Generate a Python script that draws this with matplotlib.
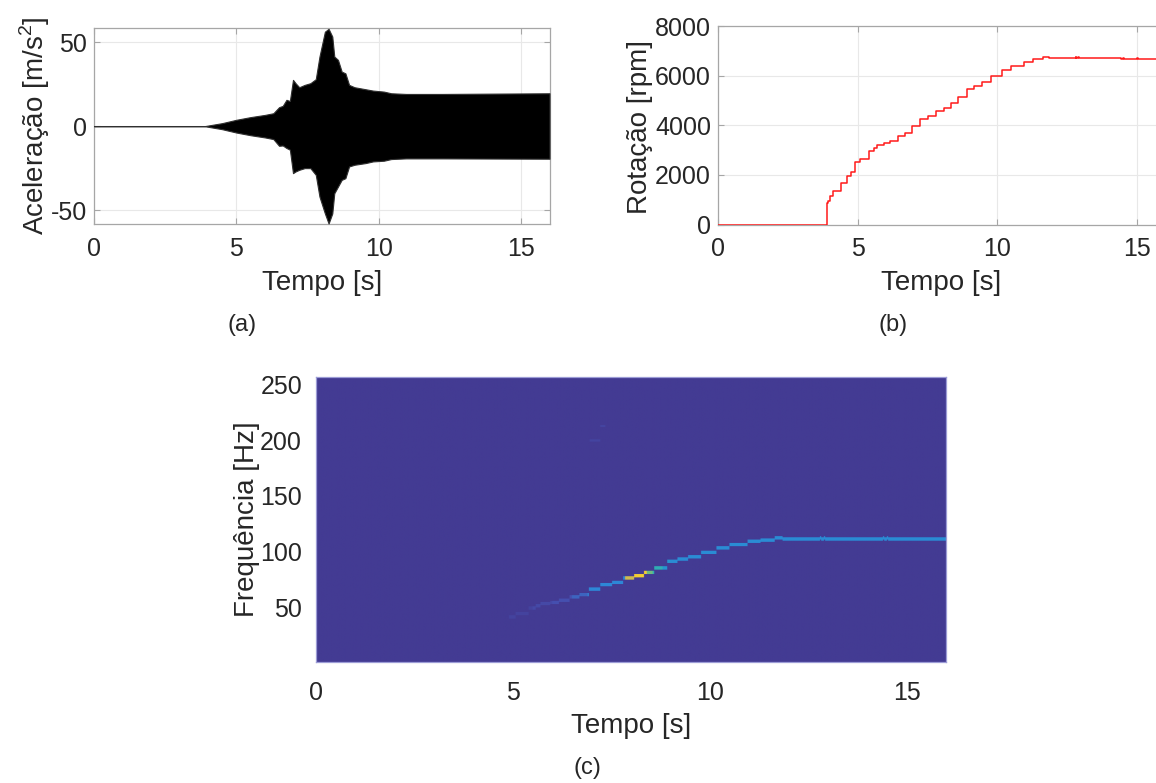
import numpy as np
import matplotlib
matplotlib.use("Agg")
import matplotlib.pyplot as plt
from matplotlib.colors import LinearSegmentedColormap

plt.rcParams['font.family'] = ['Liberation Sans', 'DejaVu Sans']
plt.rcParams['mathtext.fontset'] = 'custom'
plt.rcParams['mathtext.rm'] = 'Liberation Sans'
plt.rcParams['axes.unicode_minus'] = False

# Acceleration envelope (upper / lower) [m/s^2]
acc_t = [0, 3.88, 4.5, 5.0, 5.5, 6.0, 6.3, 6.5, 6.63, 6.76, 6.88, 6.99, 7.08, 7.21, 7.4,
         7.6, 7.79, 7.92, 8.11, 8.24, 8.37, 8.44, 8.57, 8.70, 8.83, 8.96, 9.15, 9.54, 9.80,
         10.18, 10.44, 10.96, 12.26, 16.0]
acc_upper = [0, 0, 1.8, 3.8, 5.4, 6.7, 7.7, 11.3, 12.1, 15.7, 15.0, 27.6, 25.6, 23.2, 24.6,
             25.6, 28.0, 41.5, 56.3, 58.0, 53.4, 41.5, 39.5, 32.5, 31.5, 24.6, 23.2, 22.0, 21.2,
             20.6, 19.6, 19.2, 19.2, 19.6]
acc_lower = [0, 0, -1.8, -3.8, -5.4, -6.7, -7.7, -11.7, -11.5, -13.0, -14.0, -28.0, -27.0, -26.0,
             -25.0, -25.0, -29.0, -42.0, -52.0, -58.0, -52.0, -40.0, -36.0, -32.0, -31.0, -24.0,
             -23.0, -22.0, -21.0, -20.6, -19.6, -19.2, -19.2, -19.4]

# Shaft speed [rpm]
rot_t = [0, 3.90, 3.95, 4.02, 4.10, 4.42, 4.60, 4.76, 4.90, 5.07, 5.40, 5.58, 5.70, 5.95,
         6.17, 6.44, 6.69, 6.93, 7.22, 7.52, 7.80, 8.08, 8.33, 8.59, 8.92, 9.18, 9.45, 9.78,
         10.17, 10.50, 10.96, 11.29, 11.65, 11.85, 12.80, 12.83, 12.90, 12.93, 13.0, 14.40,
         14.43, 14.50, 14.53, 15.0, 15.03, 15.30, 15.33, 16.0]
rot_rpm = [0, 850, 930, 1140, 1340, 1670, 1960, 2110, 2510, 2650, 2960, 3090, 3190, 3280,
           3370, 3560, 3690, 3980, 4250, 4360, 4580, 4710, 4900, 5130, 5470, 5580, 5740, 5980,
           6210, 6385, 6550, 6650, 6760, 6710, 6760, 6700, 6750, 6700, 6700, 6730, 6680,
           6720, 6680, 6700, 6660, 6690, 6660, 6660]

# Spectrogram ridge intensity (normalised colour level) per time segment
ridge_t = [0, 4.9, 5.5, 6.0, 6.5, 6.9, 7.85, 8.08, 8.4, 8.55, 8.8, 9.0, 16.0]
ridge_level = [0.0, 0.04, 0.07, 0.10, 0.16, 0.26, 0.76, 0.93, 0.58, 0.45, 0.32, 0.28]
harm_t = [6.95, 7.35]      # faint 3rd-order trace
harm_level = 0.05

time_ticks = [0, 5, 10, 15]

W, H = 1156, 783
fig = plt.figure(figsize=(W / 100, H / 100), dpi=100)

def box(l, r, t, b):
    return [l / W, 1 - b / H, (r - l) / W, (b - t) / H]

spine_c = '#a6a6a6'
text_c = '#262626'
tick_fs = 18
label_fs = 20

def style(ax):
    ax.grid(True, color='#e8e8e8', linewidth=0.8)
    ax.set_axisbelow(True)
    for s in ax.spines.values():
        s.set_color(spine_c)
        s.set_linewidth(0.9)
    ax.tick_params(direction='in', length=4, color=spine_c, labelcolor=text_c,
                   labelsize=tick_fs, top=True, right=True)
    ax.tick_params(axis='x', pad=9)
    ax.tick_params(axis='y', pad=5)

# (a) acceleration
ax1 = fig.add_axes(box(94, 549.5, 28, 224))
ax1.fill_between(acc_t, acc_lower, acc_upper, color='black', edgecolor='#303030',
                 linewidth=0.8, zorder=3)
ax1.set_xlim(0, 16)
ax1.set_ylim(-58.3, 58.5)
ax1.set_xticks(time_ticks)
ax1.set_yticks([-50, 0, 50])
style(ax1)
ax1.set_xlabel('Tempo [s]', fontsize=label_fs, color=text_c)
ax1.set_ylabel(r'Aceleração [m/s$^2$]', fontsize=label_fs, color=text_c)
ax1.xaxis.set_label_coords(0.5, -0.235)
ax1.yaxis.set_label_coords(-0.092, 0.5)

# (b) rotation
ax2 = fig.add_axes(box(718, 1165, 26, 224.5))
ax2.plot(rot_t, rot_rpm, color='#ff1a1a', linewidth=1.1, drawstyle='steps-post', zorder=3)
ax2.set_xlim(0, 16)
ax2.set_ylim(0, 8000)
ax2.set_xticks(time_ticks)
ax2.set_yticks([0, 2000, 4000, 6000, 8000])
style(ax2)
ax2.set_xlabel('Tempo [s]', fontsize=label_fs, color=text_c)
ax2.set_ylabel('Rotação [rpm]', fontsize=label_fs, color=text_c)
ax2.xaxis.set_label_coords(0.5, -0.229)
ax2.yaxis.set_label_coords(-0.146, 0.49)

# (c) spectrogram built from the speed profile (order 1 = rpm/60)
f_lo, f_hi, df = 1.0, 257.0, 1.0
dt = 0.01
t_cent = np.arange(0, 16, dt) + dt / 2
n_f = int(round((f_hi - f_lo) / df))
Z = np.zeros((n_f, t_cent.size))
rpm_at = np.array(rot_rpm)[np.searchsorted(rot_t, t_cent, side='right') - 1]
lvl_at = np.array(ridge_level)[np.clip(np.searchsorted(ridge_t, t_cent, side='right') - 1,
                                       0, len(ridge_level) - 1)]
freq = rpm_at / 60.0
cols = np.arange(t_cent.size)
ok = lvl_at > 0
for off in (-1, 0, 1):
    rows = ((freq - f_lo) / df).astype(int) + off
    Z[rows[ok], cols[ok]] = lvl_at[ok]
h_ok = (t_cent >= harm_t[0]) & (t_cent <= harm_t[1])
for off in (0, 1):
    h_rows = ((3 * freq - f_lo) / df).astype(int) + off
    Z[h_rows[h_ok], cols[h_ok]] = harm_level

spec_cmap = LinearSegmentedColormap.from_list('spec', [
    (0.0, '#433b93'), (0.1, '#4650b0'), (0.25, '#2f86d8'), (0.4, '#19a7c8'),
    (0.55, '#5cbb8c'), (0.7, '#b8bc55'), (0.85, '#f0b84a'), (1.0, '#f5e020')])

ax3 = fig.add_axes(box(316, 946, 377, 661.5))
ax3.imshow(Z, origin='lower', aspect='auto', cmap=spec_cmap, vmin=0, vmax=1,
           extent=(0, 16, f_lo, f_hi), interpolation='antialiased')
ax3.set_xlim(0, 16)
ax3.set_ylim(f_lo, f_hi)
ax3.set_xticks(time_ticks)
ax3.set_yticks([50, 100, 150, 200, 250])
for s in ax3.spines.values():
    s.set_color('#9c9cd6')
    s.set_linewidth(0.9)
ax3.tick_params(length=0, labelsize=tick_fs, labelcolor=text_c)
ax3.tick_params(axis='x', pad=14)
ax3.tick_params(axis='y', pad=10)
ax3.set_xlabel('Tempo [s]', fontsize=label_fs, color=text_c)
ax3.set_ylabel('Frequência [Hz]', fontsize=label_fs, color=text_c)
ax3.xaxis.set_label_coords(0.5, -0.181)
ax3.yaxis.set_label_coords(-0.089, 0.5)

# panel tags
fig.text(242 / W, 1 - 325 / H, '(a)', ha='center', va='center', fontsize=17, color=text_c)
fig.text(893 / W, 1 - 325 / H, '(b)', ha='center', va='center', fontsize=17, color=text_c)
fig.text(587 / W, 1 - 768 / H, '(c)', ha='center', va='center', fontsize=17, color=text_c)

fig.savefig('out.png', dpi=100, facecolor='white')
